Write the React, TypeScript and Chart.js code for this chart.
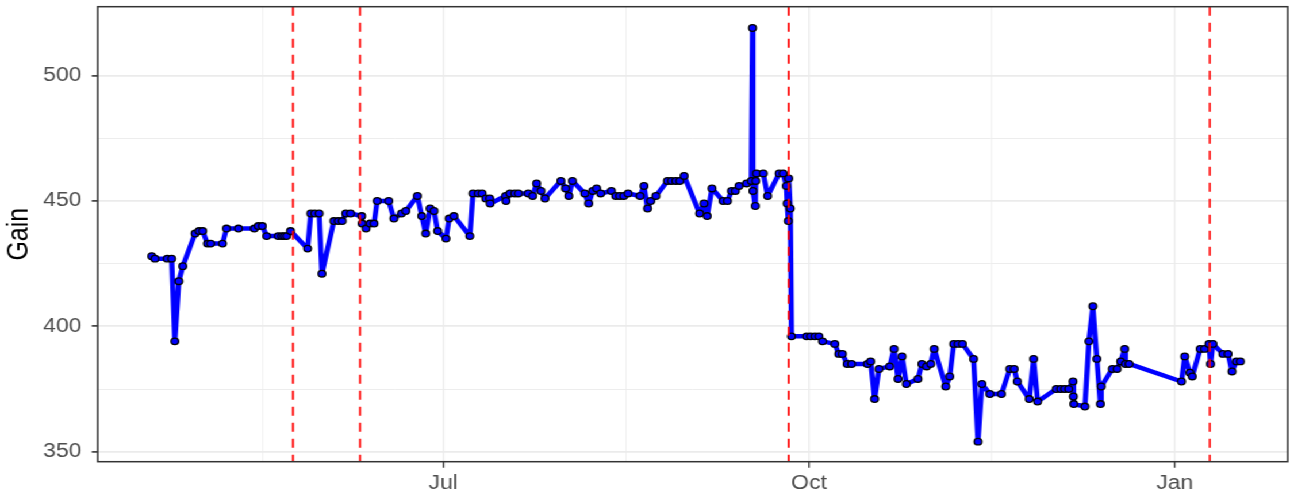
import React, { useEffect, useRef } from "react";
import { Chart, registerables } from "chart.js";

Chart.register(...registerables);

// x: days since 2017-01-01 (fractional part = time within the day)
const dayOffsets = [
  107.7, 108.5, 111.6, 112.7, 113.5, 114.5, 115.5, 118.6, 119.6, 120.5,
  121.7, 122.5, 125.5, 126.5, 129.5, 133.5, 134.5, 135.5, 136.6, 139.5,
  140.4, 141.0, 141.6, 142.6, 146.9, 147.7, 148.7, 149.8, 150.5, 153.5,
  154.6, 155.6, 156.5, 157.7, 160.5, 160.6, 161.6, 162.6, 163.6, 164.4,
  167.3, 168.6, 170.5, 171.6, 174.5, 175.6, 176.6, 177.7, 178.7, 179.6,
  181.7, 182.5, 183.7, 187.7, 188.5, 189.8, 190.8, 191.7, 192.7, 192.8,
  196.7, 196.8, 197.8, 199.0, 199.9, 202.4, 203.5, 204.5, 205.6, 206.6,
  210.6, 211.8, 212.6, 213.5, 216.6, 217.6, 218.6, 219.6, 220.6, 223.3,
  224.4, 225.4, 226.4, 227.5, 230.5, 231.5, 232.4, 233.2, 234.5, 237.4,
  238.4, 239.5, 240.5, 241.6, 245.5, 246.6, 247.4, 248.6, 251.4, 252.5,
  253.5, 254.5, 255.4, 257.3, 258.5, 258.8, 258.9, 259.5, 259.6, 259.8,
  261.5, 262.6, 265.5, 266.5, 267.3, 267.5, 267.8, 267.9, 268.3, 268.6,
  272.4, 273.4, 274.5, 275.5, 276.4, 279.5, 280.5, 281.4, 282.6, 283.7,
  287.7, 288.5, 289.5, 290.6, 293.3, 294.4, 295.4, 296.4, 297.5, 300.4,
  301.4, 302.6, 303.6, 304.5, 307.4, 308.4, 309.4, 310.5, 311.6, 314.4,
  315.5, 316.5, 318.5, 321.4, 323.5, 324.6, 325.4, 328.4, 329.5, 330.5,
  335.2, 336.3, 337.3, 338.3, 339.4, 339.5, 339.6, 342.4, 343.4, 344.4,
  345.4, 346.3, 346.5, 349.3, 350.5, 351.4, 352.4, 352.6, 353.5, 366.7,
  367.5, 368.8, 369.4, 371.4, 372.5, 373.6, 374.0, 374.6, 377.1, 378.4,
  379.4, 380.5, 381.5,
];

const gainValues = [
  428, 427, 427, 427, 394, 418, 424, 437, 438, 438,
  433, 433, 433, 439, 439, 439, 440, 440, 436, 436,
  436, 436, 436, 438, 431, 445, 445, 445, 421, 442,
  442, 442, 445, 445, 444, 441, 439, 441, 441, 450,
  450, 443, 445, 446, 452, 444, 437, 447, 446, 438,
  435, 443, 444, 436, 453, 453, 453, 451, 451, 449,
  452, 450, 453, 453, 453, 453, 452, 457, 454, 451,
  458, 455, 452, 458, 453, 449, 454, 455, 453, 454,
  452, 452, 452, 453, 452, 456, 447, 450, 452, 458,
  458, 458, 458, 460, 445, 449, 444, 455, 450, 450,
  454, 454, 456, 457, 458, 519, 454, 448, 458, 461,
  461, 452, 461, 461, 456, 449, 442, 459, 447, 396,
  396, 396, 396, 396, 394, 393, 389, 389, 385, 385,
  385, 386, 371, 383, 384, 391, 379, 388, 377, 379,
  385, 384, 385, 391, 376, 380, 393, 393, 393, 387,
  354, 377, 373, 373, 383, 383, 378, 371, 387, 370,
  375, 375, 375, 375, 378, 372, 369, 368, 394, 408,
  387, 369, 376, 383, 383, 386, 391, 385, 385, 378,
  388, 381.5, 380, 391, 391, 393, 385, 393, 389, 389,
  382, 386, 386,
];

// dashed red event markers (days since 2017-01-01)
const eventDays = [143.2, 160.1, 267.9, 373.8];

const xMajorTicks = [181, 273, 365];
const xMajorLabels = ["Jul", "Oct", "Jan"];
const xMinorTicks = [135.5, 227, 319];
const yMajorTicks = [350, 400, 450, 500];
const yMinorTicks = [375, 425, 475];
const xRange = [94.1, 393.4];
const yRange = [346.0, 527.5];

const STRETCH = 1290 / 1122;
const FONT = "'Liberation Sans', Arial, Helvetica, sans-serif";

export default function App() {
  const canvasRef = useRef<HTMLCanvasElement | null>(null);

  useEffect(() => {
    document.body.style.margin = "0";
    document.body.style.overflow = "hidden";
    const canvas = canvasRef.current;
    if (!canvas) return;

    const points = dayOffsets.map((d, i) => ({ x: d, y: gainValues[i] }));

    const eventLines = {
      id: "eventLines",
      afterDatasetsDraw(chart: any) {
        const { ctx, chartArea } = chart;
        const xs = chart.scales.x;
        ctx.save();
        ctx.beginPath();
        ctx.rect(chartArea.left, chartArea.top, chartArea.right - chartArea.left, chartArea.bottom - chartArea.top);
        ctx.clip();
        ctx.strokeStyle = "#FF0000";
        ctx.lineWidth = 2 / STRETCH;
        ctx.setLineDash([9, 7]);
        for (const d of eventDays) {
          const x = xs.getPixelForValue(d);
          ctx.beginPath();
          ctx.moveTo(x, chartArea.top);
          ctx.lineTo(x, chartArea.bottom);
          ctx.stroke();
        }
        ctx.restore();
      },
    };

    const panelBorder = {
      id: "panelBorder",
      afterDraw(chart: any) {
        const { ctx, chartArea } = chart;
        ctx.save();
        ctx.strokeStyle = "#333333";
        ctx.lineWidth = 1.5;
        ctx.strokeRect(chartArea.left, chartArea.top, chartArea.right - chartArea.left, chartArea.bottom - chartArea.top);
        ctx.restore();
      },
    };

    const isXMajor = (v: number) => xMajorTicks.indexOf(v) >= 0;
    const isYMajor = (v: number) => yMajorTicks.indexOf(v) >= 0;

    const chart = new Chart(canvas, {
      type: "line",
      data: {
        datasets: [
          {
            data: points,
            borderColor: "#0000FF",
            borderWidth: 4.5,
            borderJoinStyle: "round",
            tension: 0,
            fill: false,
            pointRadius: 3.3,
            pointBackgroundColor: "#0000FF",
            pointBorderColor: "#000000",
            pointBorderWidth: 1.3,
          },
        ],
      },
      options: {
        responsive: false,
        animation: false,
        events: [],
        layout: { autoPadding: false, padding: { top: 6.7, right: 2, left: 0, bottom: 0 } },
        plugins: { legend: { display: false }, tooltip: { enabled: false } },
        scales: {
          x: {
            type: "linear",
            min: xRange[0],
            max: xRange[1],
            afterBuildTicks: (s: any) => {
              s.ticks = [...xMinorTicks, ...xMajorTicks].sort((a, b) => a - b).map((v) => ({ value: v }));
            },
            afterFit: (s: any) => {
              s.height = 35.3;
              s.paddingLeft = 0;
              s.paddingRight = 0;
            },
            border: { display: false },
            grid: {
              color: "#EBEBEB",
              lineWidth: (c: any) => (c.tick && isXMajor(c.tick.value) ? 1.5 / STRETCH : 0.8 / STRETCH),
              tickLength: 6,
              tickColor: (c: any) => (c.tick && isXMajor(c.tick.value) ? "#333333" : "rgba(0,0,0,0)"),
              tickWidth: 1.5 / STRETCH,
            },
            ticks: {
              autoSkip: false,
              maxRotation: 0,
              minRotation: 0,
              padding: 4,
              color: "#4D4D4D",
              font: { family: FONT, size: 20 },
              callback: (v: any) => {
                const i = xMajorTicks.indexOf(Number(v));
                return i >= 0 ? xMajorLabels[i] : "";
              },
            },
          },
          y: {
            type: "linear",
            min: yRange[0],
            max: yRange[1],
            afterBuildTicks: (s: any) => {
              s.ticks = [...yMinorTicks, ...yMajorTicks].sort((a, b) => a - b).map((v) => ({ value: v }));
            },
            afterFit: (s: any) => {
              s.width = 97.7 / STRETCH;
              s.paddingTop = 0;
              s.paddingBottom = 0;
            },
            border: { display: false },
            grid: {
              color: "#EBEBEB",
              lineWidth: (c: any) => (c.tick && isYMajor(c.tick.value) ? 1.8 : 0.9),
              tickLength: 6 / STRETCH,
              tickColor: (c: any) => (c.tick && isYMajor(c.tick.value) ? "#333333" : "rgba(0,0,0,0)"),
              tickWidth: 1.6,
            },
            ticks: {
              autoSkip: false,
              padding: 8.8,
              color: "#4D4D4D",
              font: { family: FONT, size: 20 },
              callback: (v: any) => (isYMajor(Number(v)) ? String(v) : ""),
            },
            title: {
              display: true,
              text: "Gain",
              color: "#000000",
              font: { family: FONT, size: 25 },
              padding: { top: 2.4, bottom: 0 },
            },
          },
        },
      },
      plugins: [eventLines, panelBorder],
    } as any);

    return () => chart.destroy();
  }, []);

  return (
    <div
      style={{
        position: "absolute",
        left: 0,
        top: 0,
        width: 1122,
        height: 497,
        transform: `scaleX(${STRETCH})`,
        transformOrigin: "0 0",
        background: "#FFFFFF",
      }}
    >
      <canvas ref={canvasRef} width={1122} height={497} style={{ display: "block" }} />
    </div>
  );
}
